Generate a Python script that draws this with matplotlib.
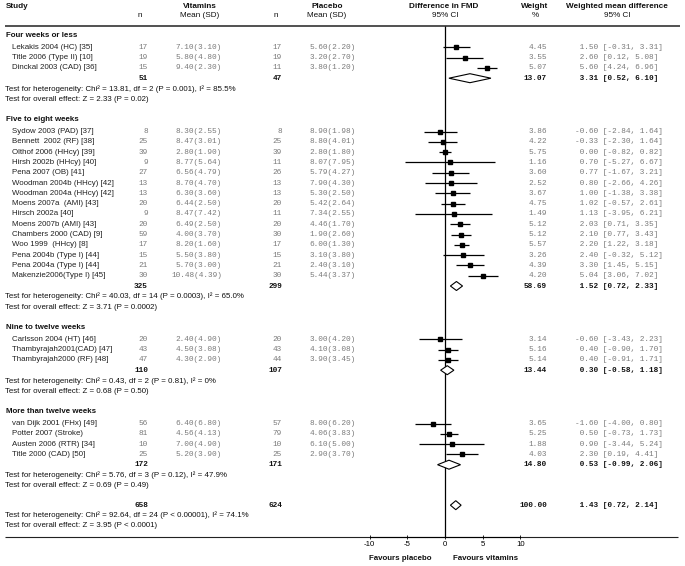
import matplotlib
matplotlib.use('Agg')
from matplotlib import pyplot as plt

# forest plot: vitamins vs placebo, difference in FMD

groups = ['Four weeks or less', 'Five to eight weeks',
          'Nine to twelve weeks', 'More than twelve weeks']
study_group = [0, 0, 0,
               1, 1, 1, 1, 1, 1, 1, 1, 1, 1, 1, 1, 1, 1, 1,
               2, 2, 2,
               3, 3, 3, 3]
studies = ['Lekakis 2004 (HC) [35]', 'Title 2006 (Type II) [10]', 'Dinckal 2003 (CAD) [36]',
           'Sydow 2003 (PAD) [37]', 'Bennett  2002 (RF) [38]', 'Olthof 2006 (HHcy) [39]',
           'Hirsh 2002b (HHcy) [40]', 'Pena 2007 (OB) [41]', 'Woodman 2004b (HHcy) [42]',
           'Woodman 2004a (HHcy) [42]', 'Moens 2007a  (AMI) [43]', 'Hirsch 2002a [40]',
           'Moens 2007b (AMI) [43]', 'Chambers 2000 (CAD) [9]', 'Woo 1999  (HHcy) [8]',
           'Pena 2004b (Type I) [44]', 'Pena 2004a (Type I) [44]', 'Makenzie2006(Type I) [45]',
           'Carlsson 2004 (HT) [46]', 'Thambyrajah2001(CAD) [47]', 'Thambyrajah2000 (RF) [48]',
           'van Dijk 2001 (FHx) [49]', 'Potter 2007 (Stroke)', 'Austen 2006 (RTR) [34]',
           'Title 2000 (CAD) [50]']
vit_n = [17, 19, 15,
         8, 25, 39, 9, 27, 13, 13, 20, 9, 20, 59, 17, 15, 21, 30,
         20, 43, 47,
         56, 81, 10, 25]
vit_mean = [7.10, 5.80, 9.40,
            8.30, 8.47, 2.80, 8.77, 6.56, 8.70, 6.30, 6.44, 8.47, 6.49, 4.00, 8.20, 5.50, 5.70, 10.48,
            2.40, 4.50, 4.30,
            6.40, 4.56, 7.00, 5.20]
vit_sd = [3.10, 4.80, 2.30,
          2.55, 3.01, 1.90, 5.64, 4.79, 4.70, 3.60, 2.50, 7.42, 2.50, 3.70, 1.60, 3.80, 3.00, 4.39,
          4.90, 3.08, 2.90,
          6.80, 4.13, 4.90, 3.90]
pla_n = [17, 19, 11,
         8, 25, 39, 11, 26, 13, 13, 20, 11, 20, 30, 17, 15, 21, 30,
         20, 43, 44,
         57, 79, 10, 25]
pla_mean = [5.60, 3.20, 3.80,
            8.90, 8.80, 2.80, 8.07, 5.79, 7.90, 5.30, 5.42, 7.34, 4.46, 1.90, 6.00, 3.10, 2.40, 5.44,
            3.00, 4.10, 3.90,
            8.00, 4.06, 6.10, 2.90]
pla_sd = [2.20, 2.70, 1.20,
          1.98, 4.01, 1.80, 7.95, 4.27, 4.30, 2.50, 2.64, 2.55, 1.70, 2.60, 1.30, 3.80, 3.10, 3.37,
          4.20, 3.08, 3.45,
          6.20, 3.83, 5.00, 3.70]
weight = [4.45, 3.55, 5.07,
          3.86, 4.22, 5.75, 1.16, 3.60, 2.52, 3.67, 4.75, 1.49, 5.12, 5.12, 5.57, 3.26, 4.39, 4.20,
          3.14, 5.16, 5.14,
          3.65, 5.25, 1.88, 4.03]
wmd = [1.50, 2.60, 5.60,
       -0.60, -0.33, 0.00, 0.70, 0.77, 0.80, 1.00, 1.02, 1.13, 2.03, 2.10, 2.20, 2.40, 3.30, 5.04,
       -0.60, 0.40, 0.40,
       -1.60, 0.50, 0.90, 2.30]
ci_lo = [-0.31, 0.12, 4.24,
         -2.84, -2.30, -0.82, -5.27, -1.67, -2.66, -1.38, -0.57, -3.95, 0.71, 0.77, 1.22, -0.32, 1.45, 3.06,
         -3.43, -0.90, -0.91,
         -4.00, -0.73, -3.44, 0.19]
ci_hi = [3.31, 5.08, 6.96,
         1.64, 1.64, 0.82, 6.67, 3.21, 4.26, 3.38, 2.61, 6.21, 3.35, 3.43, 3.18, 5.12, 5.15, 7.02,
         2.23, 1.70, 1.71,
         0.80, 1.73, 5.24, 4.41]

grp_vit_n = [51, 325, 110, 172]
grp_pla_n = [47, 299, 107, 171]
grp_weight = [13.07, 58.69, 13.44, 14.80]
grp_wmd = [3.31, 1.52, 0.30, 0.53]
grp_lo = [0.52, 0.72, -0.58, -0.99]
grp_hi = [6.10, 2.33, 1.18, 2.06]
grp_het = ['Chi\u00b2 = 13.81, df = 2 (P = 0.001), I\u00b2 = 85.5%',
           'Chi\u00b2 = 40.03, df = 14 (P = 0.0003), I\u00b2 = 65.0%',
           'Chi\u00b2 = 0.43, df = 2 (P = 0.81), I\u00b2 = 0%',
           'Chi\u00b2 = 5.76, df = 3 (P = 0.12), I\u00b2 = 47.9%']
grp_z = ['Z = 2.33 (P = 0.02)', 'Z = 3.71 (P = 0.0002)',
         'Z = 0.68 (P = 0.50)', 'Z = 0.69 (P = 0.49)']

all_vit_n, all_pla_n, all_weight = 658, 624, 100.00
all_wmd, all_lo, all_hi = 1.43, 0.72, 2.14
all_het = 'Chi\u00b2 = 92.64, df = 24 (P < 0.00001), I\u00b2 = 74.1%'
all_z = 'Z = 3.95 (P < 0.0001)'

xticks = [-10, -5, 0, 5, 10]

plt.rcParams['axes.unicode_minus'] = False
sans = 'Liberation Sans'
mono = 'Liberation Mono'
fs = 5.7
ms = 5.6
grey = '#7a7a7a'

W, H = 685, 566
fig = plt.figure(figsize=(W / 100, H / 100), dpi=100)
ax = fig.add_axes([0, 0, 1, 1])
ax.set_xlim(0, W)
ax.set_ylim(H, 0)
ax.axis('off')

# forest panel, pixel rows on y
x0, x1 = 369.7, 520.3
fx = fig.add_axes([x0 / W, 0, (x1 - x0) / W, 1])
fx.set_xlim(-10, 10)
fx.set_ylim(H, 0)
fx.patch.set_visible(False)
for s in ['top', 'left', 'right']:
    fx.spines[s].set_visible(False)
fx.spines['bottom'].set_position(('data', 537))
fx.spines['bottom'].set_linewidth(0.8)
fx.set_yticks([])
fx.set_xticks(xticks)
fx.set_xticklabels([str(t) for t in xticks], fontsize=5.6, family=sans)
fx.tick_params(axis='x', direction='inout', length=3, width=0.6, pad=1.5)

# column positions
c_study = 6
c_name = 12
c_vn = 148
c_vm = 222
c_pn = 282
c_pm = 356
c_w = 547
c_wmd = 575

def sans_text(x, y, s, bold=False, ha='left', color='#111111', size=fs):
    ax.text(x, y, s, fontsize=size, family=sans, ha=ha, va='center', color=color,
            fontweight='bold' if bold else 'normal')

def mono_text(x, y, s, bold=False, ha='right'):
    ax.text(x, y, s, fontsize=ms, family=mono, ha=ha, va='center',
            color='#111111' if bold else grey, fontweight='bold' if bold else 'normal')

# header
hy1, hy2 = 6, 15.5
hs = 5.9
sans_text(c_study, hy1, 'Study', bold=True, size=hs)
sans_text(200, hy1, 'Vitamins', bold=True, ha='center', size=hs)
sans_text(140, hy2, 'n', ha='center', size=hs)
sans_text(200, hy2, 'Mean (SD)', ha='center', size=hs)
sans_text(327, hy1, 'Placebo', bold=True, ha='center', size=hs)
sans_text(276, hy2, 'n', ha='center', size=hs)
sans_text(327, hy2, 'Mean (SD)', ha='center', size=hs)
sans_text(444, hy1, 'Difference in FMD', bold=True, ha='center', size=hs)
sans_text(445, hy2, '95% CI', ha='center', size=hs)
sans_text(535, hy1, 'Weight', bold=True, ha='center', size=hs)
sans_text(535, hy2, '%', ha='center', size=hs)
sans_text(617, hy1, 'Weighted mean difference', bold=True, ha='center', size=hs)
sans_text(617, hy2, '95% CI', ha='center', size=hs)
ax.hlines(26, 5, 680, color='#333333', lw=1.2)
ax.hlines(537, 5, 678, color='#222222', lw=0.8)
fx.vlines(0, 26, 537, color='black', lw=0.9)

def diamond(y, m, lo, hi, h=4.5):
    fx.fill([lo, m, hi, m], [y, y - h, y, y + h], facecolor='white',
            edgecolor='black', lw=0.8, zorder=3)

def wmd_str(m, lo, hi):
    return '%5.2f [%.2f, %.2f]' % (m, lo, hi)

row = 10.3
y = 35.5
for g, name in enumerate(groups):
    sans_text(c_study, y, name, bold=True)
    y += 11.8
    for i in range(len(studies)):
        if study_group[i] != g:
            continue
        sans_text(c_name, y, studies[i], color='#222222')
        mono_text(c_vn, y, str(vit_n[i]))
        mono_text(c_vm, y, '%.2f(%.2f)' % (vit_mean[i], vit_sd[i]))
        mono_text(c_pn, y, str(pla_n[i]))
        mono_text(c_pm, y, '%.2f(%.2f)' % (pla_mean[i], pla_sd[i]))
        mono_text(c_w, y, '%.2f' % weight[i])
        mono_text(c_wmd, y, wmd_str(wmd[i], ci_lo[i], ci_hi[i]), ha='left')
        fx.hlines(y, ci_lo[i], ci_hi[i], color='black', lw=0.9, zorder=2)
        fx.plot(wmd[i], y, 's', color='black', ms=2.4 + 0.15 * weight[i], zorder=3)
        y += row
    mono_text(c_vn, y, str(grp_vit_n[g]), bold=True)
    mono_text(c_pn, y, str(grp_pla_n[g]), bold=True)
    mono_text(c_w, y, '%.2f' % grp_weight[g], bold=True)
    mono_text(c_wmd, y, wmd_str(grp_wmd[g], grp_lo[g], grp_hi[g]), bold=True, ha='left')
    diamond(y, grp_wmd[g], grp_lo[g], grp_hi[g])
    y += 10.5
    sans_text(5, y, 'Test for heterogeneity: ' + grp_het[g])
    y += 10.5
    sans_text(5, y, 'Test for overall effect: ' + grp_z[g])
    y += 20.5

# overall
y -= 1
mono_text(c_vn, y, str(all_vit_n), bold=True)
mono_text(c_pn, y, str(all_pla_n), bold=True)
mono_text(c_w, y, '%.2f' % all_weight, bold=True)
mono_text(c_wmd, y, wmd_str(all_wmd, all_lo, all_hi), bold=True, ha='left')
diamond(y, all_wmd, all_lo, all_hi)
y += 10.3
sans_text(5, y, 'Test for heterogeneity: ' + all_het)
y += 10.3
sans_text(5, y, 'Test for overall effect: ' + all_z)

sans_text(432, 558.5, 'Favours placebo', bold=True, ha='right')
sans_text(453, 558.5, 'Favours vitamins', bold=True)

fig.savefig('out.png', dpi=100)
